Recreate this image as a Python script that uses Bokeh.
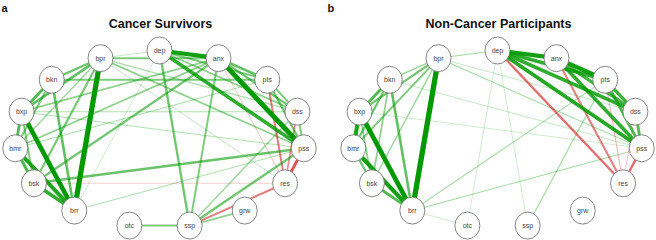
import math
from bokeh.plotting import figure
from bokeh.models import Range1d, ColumnDataSource
from bokeh.core.properties import value
from bokeh.embed import file_html
from bokeh.resources import INLINE

# ---- data ----
nodes = ["dep", "anx", "pts", "dss", "pss", "res", "grw", "ssp", "otc",
         "brr", "bsk", "bmr", "bxp", "bkn", "bpr"]

titles = ["Cancer Survivors", "Non-Cancer Participants"]
panel_tags = ["a", "b"]

# partial correlations (edge weights); negative = red
edges_cancer_from = ["bpr", "bxp", "bmr", "bsk", "bxp", "bmr", "bxp", "bxp", "bkn", "bkn",
                     "bkn", "bxp", "bsk", "bmr", "bsk", "bsk", "bmr", "brr", "bxp", "bxp",
                     "bkn", "bxp", "bpr", "bpr", "bpr", "bpr", "dep", "anx", "dep", "anx",
                     "anx", "dep", "dep", "pts", "pts", "dss", "dep", "anx", "pss", "dss",
                     "otc", "grw", "res", "pts", "dss", "pss", "anx", "bsk", "bpr", "brr",
                     "bmr"]
edges_cancer_to = ["brr", "brr", "brr", "brr", "bmr", "bsk", "bkn", "bpr", "bpr", "brr",
                   "bmr", "bsk", "bpr", "bpr", "anx", "pss", "anx", "pss", "dss", "pss",
                   "pts", "anx", "dep", "anx", "pss", "dss", "anx", "pss", "pss", "pts",
                   "dss", "pts", "dss", "dss", "pss", "pss", "ssp", "ssp", "ssp", "ssp",
                   "ssp", "ssp", "ssp", "res", "res", "res", "res", "res", "res", "dep",
                   "pts"]
edges_cancer_w = [0.90, 0.78, 0.68, 0.62, 0.50, 0.52, 0.50, 0.45, 0.40, 0.45,
                  0.35, 0.35, 0.38, 0.25, 0.40, 0.42, 0.30, 0.18, 0.18, 0.18,
                  0.35, 0.30, 0.15, 0.35, 0.30, 0.20, 0.72, 0.85, 0.62, 0.45,
                  0.40, 0.35, 0.30, 0.35, 0.40, 0.35, 0.40, 0.35, 0.40, 0.25,
                  0.35, 0.30, -0.35, -0.35, -0.30, -0.50, -0.15, -0.12, 0.15, 0.12,
                  0.20]

edges_noncancer_from = ["bpr", "bxp", "bmr", "bxp", "bsk", "bmr", "bkn", "bxp", "bkn", "bkn",
                        "bpr", "bpr", "bpr", "bpr", "bxp", "dep", "dep", "anx", "dep", "dep",
                        "anx", "anx", "pts", "pts", "dss", "dep", "anx", "pts", "pss", "dss",
                        "bpr", "bpr", "bpr", "pts", "dep", "otc", "brr", "brr", "brr", "bkn",
                        "bxp"]
edges_noncancer_to = ["brr", "brr", "brr", "bmr", "brr", "bsk", "brr", "bkn", "bmr", "bsk",
                      "bxp", "bmr", "bkn", "bsk", "bsk", "anx", "pts", "pts", "dss", "pss",
                      "pss", "dss", "dss", "pss", "pss", "res", "res", "res", "res", "res",
                      "dep", "pss", "dss", "ssp", "ssp", "dep", "pss", "pts", "otc", "pss",
                      "pss"]
edges_noncancer_w = [0.92, 0.80, 0.72, 0.70, 0.50, 0.40, 0.45, 0.50, 0.40, 0.30,
                     0.40, 0.35, 0.25, 0.25, 0.30, 0.72, 0.62, 0.72, 0.62, 0.66,
                     0.62, 0.55, 0.58, 0.50, 0.50, -0.40, -0.35, -0.18, -0.42, -0.15,
                     0.20, 0.20, 0.15, 0.22, 0.12, 0.12, 0.20, 0.20, 0.12, 0.15,
                     0.12]

panels = [
    (edges_cancer_from, edges_cancer_to, edges_cancer_w),
    (edges_noncancer_from, edges_noncancer_to, edges_noncancer_w),
]

# ---- layout parameters (screen px of canvas) ----
W, H = 656, 240
centers_x = [159, 497]
center_y = 138.5
rx, ry = 145, 88.5
POS = "#009900"
NEG = "#CC0000"

p = figure(width=W, height=H, x_range=Range1d(0, W), y_range=Range1d(H, 0),
           output_backend="svg", toolbar_location=None, min_border=0)
p.axis.visible = False
p.grid.visible = False
p.outline_line_color = None
p.background_fill_color = "white"

for k, (ef, et, ew) in enumerate(panels):
    cx = centers_x[k]
    n = len(nodes)
    pos = {}
    for i, name in enumerate(nodes):
        th = 2 * math.pi * i / n
        pos[name] = (cx + rx * math.sin(th), center_y - ry * math.cos(th))
    order = sorted(range(len(ew)), key=lambda j: abs(ew[j]))
    src = ColumnDataSource(dict(
        x0=[pos[ef[j]][0] for j in order],
        y0=[pos[ef[j]][1] for j in order],
        x1=[pos[et[j]][0] for j in order],
        y1=[pos[et[j]][1] for j in order],
        color=[POS if ew[j] > 0 else NEG for j in order],
        alpha=[min(1.0, 0.1 + abs(ew[j]) * 1.15) for j in order],
        width=[max(0.8, abs(ew[j]) * 5.8) for j in order],
    ))
    p.segment("x0", "y0", "x1", "y1", source=src, line_color="color",
              line_alpha="alpha", line_width="width")
    nsrc = ColumnDataSource(dict(x=[pos[nm][0] for nm in nodes],
                                 y=[pos[nm][1] for nm in nodes],
                                 label=nodes))
    p.ellipse("x", "y", width=25, height=27, width_units="screen",
              height_units="screen", source=nsrc, fill_color="white",
              line_color="#666666", line_width=0.8)
    p.text("x", "y", text="label", source=nsrc, text_align="center",
           text_baseline="middle", text_font_size="7px", text_color="#444444",
           text_font=value("Liberation Sans"))
    p.text(x=[cx + 1], y=[23], text=[titles[k]], text_align="center",
           text_baseline="alphabetic", text_font_size="12.5px", text_font_style="bold",
           text_color="#111111", text_font=value("Liberation Sans"))
    p.text(x=[1 if k == 0 else 327], y=[1], text=[panel_tags[k]], text_align="left",
           text_baseline="top", text_font_size="11px", text_font_style="bold",
           text_color="#111111", text_font=value("Liberation Sans"))

open("out.html", "w").write(file_html(p, INLINE))
